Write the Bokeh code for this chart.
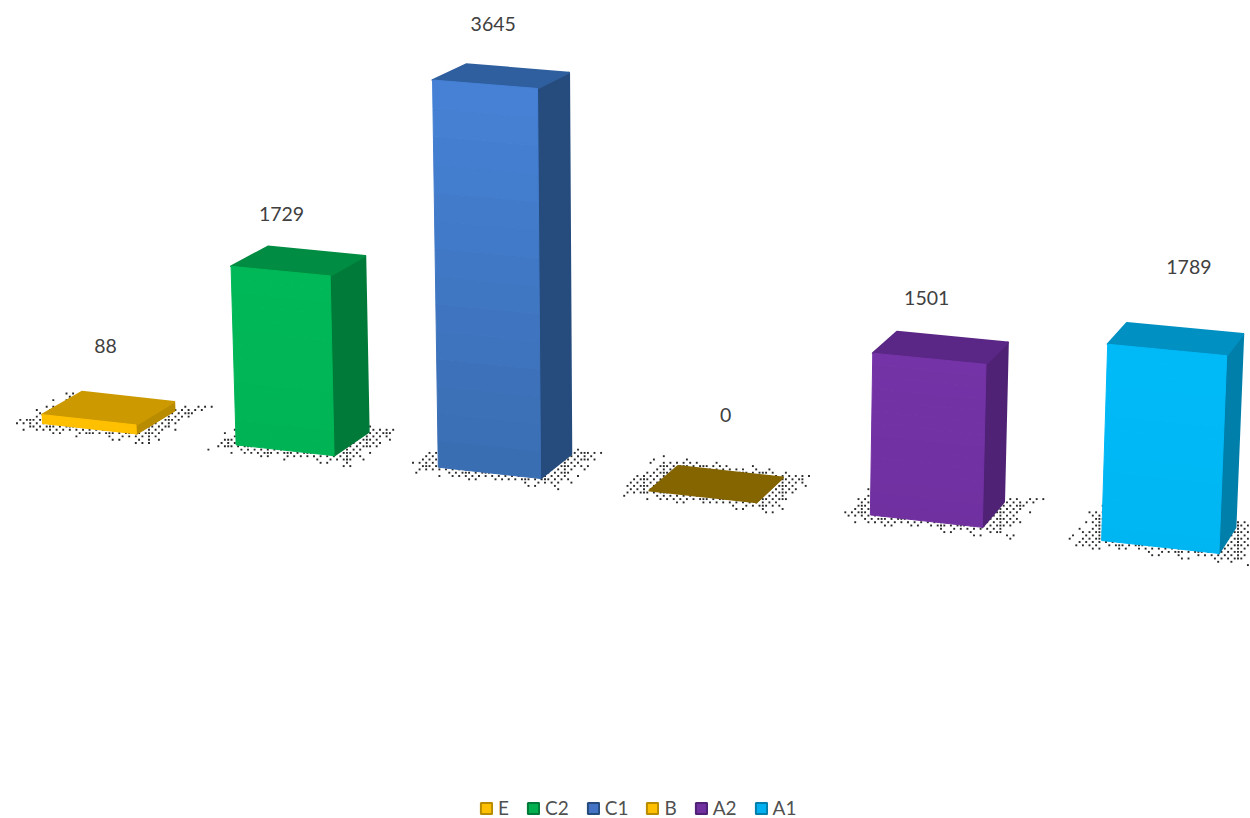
import numpy as np
from bokeh.plotting import figure
from bokeh.models import Range1d, Legend, LegendItem
from bokeh.core.properties import value
from bokeh.embed import file_html
from bokeh.resources import INLINE

categories = ["E", "C2", "C1", "B", "A2", "A1"]
values = [88, 1729, 3645, 0, 1501, 1789]
front_top = ["#FFC000", "#00B858", "#4682D6", "#FFC000", "#7433A6", "#00BAF8"]
front_bot = ["#FFC000", "#00B455", "#3A6DB2", "#FFC000", "#7030A0", "#00B6F2"]
top_cols = ["#CC9A00", "#008C42", "#2F5F9E", "#846500", "#5A2786", "#0090C2"]
side_cols = ["#B98C00", "#007A38", "#264C7E", "#846500", "#4F2276", "#007FAB"]
key_cols = ["#FFC000", "#00B050", "#4472C4", "#FFC000", "#7030A0", "#00B0F0"]
key_edges = ["#B98C00", "#007A38", "#264C7E", "#B98C00", "#4F2276", "#007FAB"]
label_dx = [-3, -17, -8, 9, -14, 13]
label_dy = [-62, -47, -52, -69, -50, -72]

BAR_W = 0.49


def project(u, d, z):
    """Perspective view of the bars: u along categories, d in depth, z the value."""
    u, d, z = np.asarray(u, float), np.asarray(d, float), np.asarray(z, float)
    w = 1 - 0.021 * u + 0.0218 * d - 6.74e-6 * z
    x = (42 + 188.7 * u + 41.5 * d - 0.00442 * z) / w
    y = (423 + 12.06 * u + (-14.3 + 0.5 * u) * d - (0.1035 - 0.0006 * u) * z) / w
    return x, y


def quad(pts):
    xs, ys = project(*np.array(pts, float).T)
    return list(xs), list(ys)


def mix(a, b, t):
    ca = [int(a[i:i + 2], 16) for i in (1, 3, 5)]
    cb = [int(b[i:i + 2], 16) for i in (1, 3, 5)]
    return "#%02X%02X%02X" % tuple(round(p + (q - p) * t) for p, q in zip(ca, cb))


def inside(px, py, poly):
    xs, ys = poly
    res = np.ones_like(px, bool)
    for k in range(4):
        x0, y0, x1, y1 = xs[k], ys[k], xs[(k + 1) % 4], ys[(k + 1) % 4]
        res &= (x1 - x0) * (py - y0) - (y1 - y0) * (px - x0) <= 0
    return res


p = figure(width=1250, height=818, output_backend="svg", toolbar_location=None,
           x_range=Range1d(0, 1250), y_range=Range1d(818, 0),
           min_border=0, outline_line_color=None, background_fill_color="white")
p.xaxis.visible = False
p.yaxis.visible = False
p.grid.visible = False

# stippled shadows on the ground plane
STEP = 3.3
gx, gy = np.meshgrid(np.arange(0, 1250, STEP), np.arange(360, 600, STEP))
idx_x, idx_y = np.meshgrid(np.arange(gx.shape[1]), np.arange(gx.shape[0]))
sx, sy = [], []
for i in range(len(categories)):
    outer = quad([(i - .135, -.33, 0), (i + BAR_W + .15, -.33, 0),
                  (i + BAR_W + .15, 1.32, 0), (i - .135, 1.32, 0)])
    inner = quad([(i - .09, -.16, 0), (i + BAR_W + .10, -.16, 0),
                  (i + BAR_W + .10, 1.16, 0), (i - .09, 1.16, 0)])
    out_m = inside(gx, gy, outer)
    in_m = inside(gx, gy, inner)
    lattice = (idx_x + idx_y) % 2 == 0
    sparse = lattice & (((idx_x * idx_x + idx_y * 5) % 7) < 3)
    keep = in_m & (lattice | ((idx_x % 3 == 0) & (idx_y % 2 == 0)))
    keep |= out_m & ~in_m & sparse
    sx += list(gx[keep])
    sy += list(gy[keep])
p.scatter(sx, sy, marker="square", size=1.9, color="#111111", line_color=None, alpha=.9)

# the bars
items = []
BANDS = 14
JOIN = dict(line_width=2, line_join="round")
for i, (cat, val) in enumerate(zip(categories, values)):
    u0, u1 = i, i + BAR_W
    xs, ys = quad([(u1, 0, 0), (u1, 1, 0), (u1, 1, val), (u1, 0, val)])
    p.patch(xs, ys, fill_color=side_cols[i], line_color=side_cols[i], **JOIN)
    xs, ys = quad([(u0, 0, val), (u1, 0, val), (u1, 1, val), (u0, 1, val)])
    p.patch(xs, ys, fill_color=top_cols[i], line_color=top_cols[i], **JOIN)
    if val > 0:
        for b in range(BANDS):
            z0, z1 = val * b / BANDS, val * (b + 1) / BANDS
            col = mix(front_bot[i], front_top[i], (b + .5) / BANDS)
            xs, ys = quad([(u0, 0, z0), (u1, 0, z0), (u1, 0, z1), (u0, 0, z1)])
            p.patch(xs, ys, fill_color=col, line_color=col, line_width=1)
    key = p.quad(left=[np.nan], right=[np.nan], top=[np.nan], bottom=[np.nan],
                 fill_color=key_cols[i], line_color=key_edges[i], line_width=2)
    items.append(LegendItem(label=cat, renderers=[key]))

# data labels
cx, cy = project([i + BAR_W / 2 for i in range(6)], [.5] * 6, values)
p.text(cx + np.array(label_dx), cy + np.array(label_dy), text=[str(v) for v in values],
       text_font=value("Lato"), text_font_size="19.5px", text_color="#404040",
       text_align="center", text_baseline="middle")

legend = Legend(items=items, orientation="horizontal", location=(479, -1),
                background_fill_alpha=0, border_line_color=None,
                glyph_width=14, glyph_height=14, label_standoff=5, spacing=17,
                label_width=1, margin=0, padding=8,
                label_text_font="Lato", label_text_font_size="19px",
                label_text_color="#505050")
p.add_layout(legend)

open("out.html", "w").write(file_html(p, INLINE))
